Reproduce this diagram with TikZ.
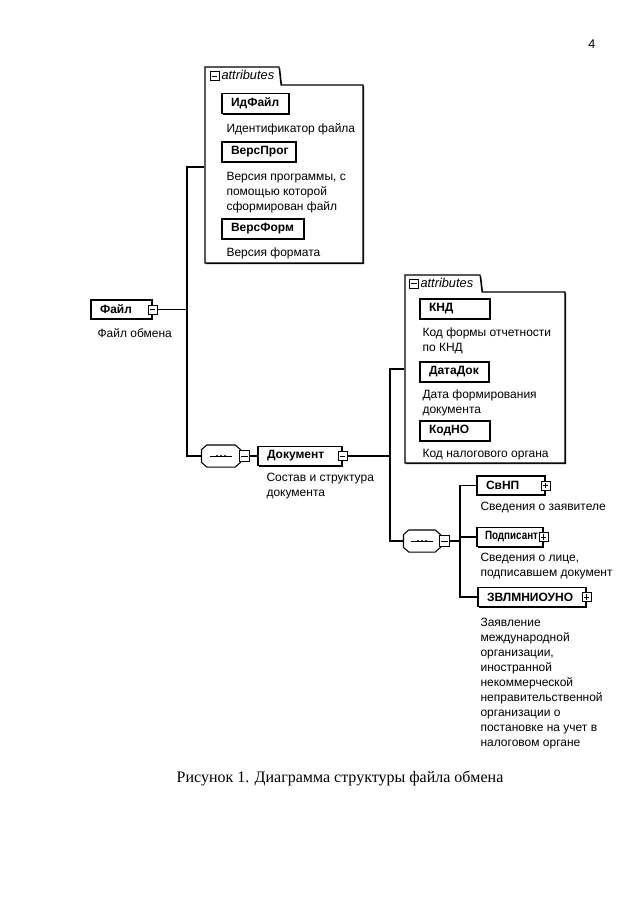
\documentclass[tikz,border=0pt]{standalone}
\usepackage{fontspec}
\usepackage{graphicx}
\setmainfont{Liberation Sans}
\newfontfamily\capfont{Liberation Serif}
\usetikzlibrary{shadows}
\newcommand{\mlines}[1]{\begin{tabular}[t]{@{}l@{}}#1\end{tabular}}
\newcommand{\octo}[1]{%
  \draw[fill=white] ([xshift=4pt]#1.north west) -- ([xshift=-4pt]#1.north east) --
      ([yshift=-3.5pt]#1.north east) -- ([yshift=3.5pt]#1.south east) --
      ([xshift=-4pt]#1.south east) -- ([xshift=4pt]#1.south west) --
      ([yshift=3.5pt]#1.south west) -- ([yshift=-3.5pt]#1.north west) -- cycle;
  \draw[line width=0.6pt] ([xshift=-8pt]#1.center) -- ([xshift=8pt]#1.center);
  \foreach \d in {-3,0,3} \fill ([xshift=\d pt]#1.center) circle (0.9pt);}
\begin{document}
\begin{tikzpicture}[x=0.75pt,y=-0.75pt,
  line width=0.8pt,
  shad/.style={drop shadow={shadow xshift=0.9pt,shadow yshift=-0.9pt,fill=black,opacity=1}},
  elem/.style 2 args={draw,fill=white,shad,inner ysep=0pt,inner xsep=6.75pt,
    text width=#1,minimum height=#2,align=left,
    font=\bfseries\fontsize{9}{10}\selectfont},
  desc/.style={anchor=base west,inner sep=0pt,
    font=\fontsize{9}{11.25pt}\selectfont},
  mbox/.style={draw,fill=white,inner sep=0pt,minimum size=6.75pt,line width=0.6pt,
    path picture={\draw[line width=0.6pt]
      ([xshift=1.4pt]path picture bounding box.west) --
      ([xshift=-1.4pt]path picture bounding box.east);}},
  pbox/.style={draw,fill=white,inner sep=0pt,minimum size=6.75pt,line width=0.6pt,
    path picture={\draw[line width=0.6pt]
      ([xshift=1.4pt]path picture bounding box.west) --
      ([xshift=-1.4pt]path picture bounding box.east)
      ([yshift=-1.4pt]path picture bounding box.north) --
      ([yshift=1.4pt]path picture bounding box.south);}},
  comp/.style={inner sep=0pt,minimum height=15.75pt},
  tabtext/.style={font=\itshape\fontsize{9.6}{10}\selectfont,anchor=base west,inner sep=0pt},
  cont/.style={draw,fill=white,shad},
  body/.style 2 args={inner sep=0pt,minimum width=#1,minimum height=#2},
]
\fill[white] (0,0) rectangle (640,905);
\useasboundingbox (0,0) rectangle (640,905);

% page number
\node[anchor=base,inner sep=0pt,font=\fontsize{9.5}{11}\selectfont] (pg) at (592,49) {4};

% ---------- attributes of Файл ----------
\draw[cont] (205,263) -- (205,67) -- (279,67) -- (281,85) -- (363,85) -- (363,263) -- cycle;
\node[body={118.5pt}{133.5pt}] (attr1) at (284,174) {};
\node[mbox] (t1i) at (214.5,76) {};
\node[tabtext] (t1) at (221,80) {attributes};

\node[elem={36.75pt}{15pt}] (idf) at (255.5,103.5) {ИдФайл};
\node[desc] (idfd) at (226,132.5) {Идентификатор файла};
\node[elem={42pt}{15pt}] (vp) at (259,152) {ВерсПрог};
\node[desc] (vpd) at (226,180.5) {\mlines{Версия программы, с\\помощью которой\\сформирован файл}};
\node[elem={48pt}{15pt}] (vf) at (263,229) {ВерсФорм};
\node[desc] (vfd) at (226,257) {Версия формата};

% ---------- Файл ----------
\node[elem={32.25pt}{14.25pt}] (file) at (121.5,309.5) {Файл};
\node[mbox] (filei) at (file.east) {};
\node[desc] (filed) at (97,337) {Файл обмена};

% ---------- sequence 1 ----------
\node[comp,minimum width=28.5pt] (s1) at (221,456) {};
\octo{s1}
\node[mbox,minimum size=8pt] (s1i) at ([xshift=3pt]s1.east) {};

% ---------- Документ ----------
\node[elem={49.5pt}{14.25pt}] (doc) at (300,456) {Документ};
\node[mbox] (doci) at (doc.east) {};
\node[desc] (docd) at (266,481) {\mlines{Состав и структура\\документа}};

% bus 1
\coordinate (j1a) at (187,167);
\coordinate (j1b) at (187,456);
\draw (filei.east) -- (filei.east -| j1a);
\draw (attr1.west |- j1a) -- (j1a) -- (j1b) -- (s1.west);
\draw (s1i.east) -- (doc.west);

% ---------- attributes of Документ ----------
\draw[cont] (405,463) -- (405,275) -- (480,275) -- (482,292) -- (565,292) -- (565,463) -- cycle;
\node[body={120pt}{128.25pt}] (attr2) at (485,377.5) {};
\node[mbox] (t2i) at (414,283.5) {};
\node[tabtext] (t2) at (420,287.5) {attributes};

\node[elem={39pt}{15pt}] (knd) at (455,309) {КНД};
\node[desc] (kndd) at (422,336.5) {\mlines{Код формы отчетности\\по КНД}};
\node[elem={38.25pt}{15pt}] (dd) at (454.5,372) {ДатаДок};
\node[desc] (ddd) at (422,398.5) {\mlines{Дата формирования\\документа}};
\node[elem={39pt}{15pt}] (kno) at (455,431) {КодНО};
\node[desc] (knod) at (422,457) {Код налогового органа};

% ---------- sequence 2 ----------
\node[comp,minimum width=27pt] (s2) at (422,541) {};
\octo{s2}
\node[mbox,minimum size=8pt] (s2i) at ([xshift=3pt]s2.east) {};

% bus 2
\coordinate (j2a) at (390,369);
\coordinate (j2b) at (390,541);
\draw (doci.east) -- (doci.east -| j2a);
\draw (attr2.west |- j2a) -- (j2a) -- (j2b) -- (s2.west);

% ---------- children ----------
\node[elem={37.5pt}{14.25pt}] (svnp) at (511,485.5) {СвНП};
\node[pbox] (svnpi) at (svnp.east) {};
\node[desc] (svnpd) at (480,510.5) {Сведения о заявителе};
\node[elem={36pt}{14.25pt},inner xsep=6pt,text width=37.5pt] (podp) at (510,537) {\scalebox{0.82}[1]{Подписант}};
\node[pbox] (podpi) at (podp.east) {};
\node[desc] (podpd) at (480,561.5) {\mlines{Сведения о лице,\\подписавшем документ}};
\node[elem={67.5pt}{14.25pt}] (zv) at (532,597) {ЗВЛМНИОУНО};
\node[pbox] (zvi) at (zv.east) {};
\node[desc] (zvd) at (480,626.5) {\mlines{Заявление\\международной\\организации,\\иностранной\\некоммерческой\\неправительственной\\организации о\\постановке на учет в\\налоговом органе}};

% bus 3
\coordinate (j3a) at (460,485.5);
\coordinate (j3b) at (460,597);
\draw (s2i.east) -- (s2i.east -| j3a);
\draw (svnp.west) -- (j3a) -- (j3b) -- (zv.west);
\draw (podp.west) -- (podp.west -| j3a);

% caption
\node[anchor=base,inner sep=0pt,font=\capfont\fontsize{12}{14}\selectfont] (cap) at (340,782)
  {Рисунок 1. Диаграмма структуры файла обмена};
\end{tikzpicture}
\end{document}
